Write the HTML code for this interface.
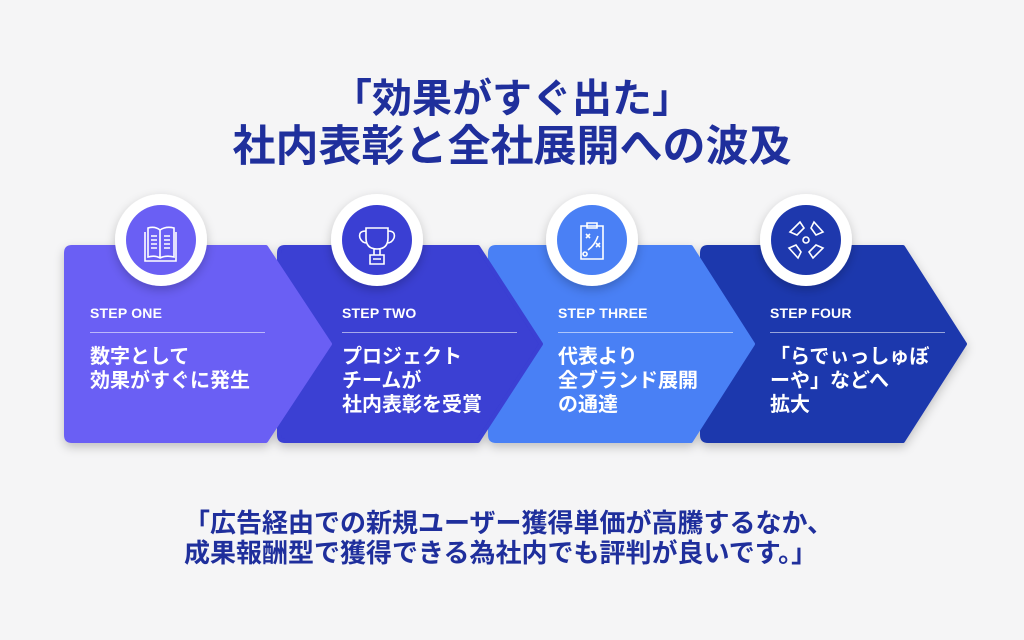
<!DOCTYPE html>
<html><head><meta charset="utf-8"><style>
body{margin:0;background:#f5f5f6;}
.w{position:relative;width:1024px;height:640px;overflow:hidden;font-family:"Liberation Sans","Noto Sans CJK JP",sans-serif;}
.t{position:absolute;left:0;width:1024px;text-align:center;color:#1f2f9c;font-weight:bold;}
.s{position:absolute;color:#fff;}
.lab{font-size:14px;font-weight:bold;letter-spacing:0.2px;}
.hr{position:absolute;height:1px;background:rgba(255,255,255,0.55);}
.bd{font-size:20px;font-weight:bold;line-height:24px;}
</style></head><body><div class="w">
<div class="t" style="top:74px;font-size:40px;line-height:50px;">「効果がすぐ出た」</div>
<div class="t" style="top:121px;font-size:43px;line-height:52px;">社内表彰と全社展開への波及</div>
<svg width="1024" height="640" style="position:absolute;left:0;top:0">
<defs><filter id="sh" x="-10%" y="-10%" width="130%" height="130%"><feDropShadow dx="0" dy="4" stdDeviation="5" flood-color="#000" flood-opacity="0.22"/></filter></defs>
<g filter="url(#sh)" stroke-linejoin="round">
<path d="M708 247 H903 L965 344 L903 441 H708 Q702 441 702 435 V253 Q702 247 708 247Z" fill="#1e38ad" stroke="#1e38ad" stroke-width="4"/>
<path d="M496 247 H691 L753 344 L691 441 H496 Q490 441 490 435 V253 Q490 247 496 247Z" fill="#4a80f5" stroke="#4a80f5" stroke-width="4"/>
<path d="M285 247 H478 L541 344 L478 441 H285 Q279 441 279 435 V253 Q279 247 285 247Z" fill="#3a3fd3" stroke="#3a3fd3" stroke-width="4"/>
<path d="M72 247 H266 L330 344 L266 441 H72 Q66 441 66 435 V253 Q66 247 72 247Z" fill="#6a5ff4" stroke="#6a5ff4" stroke-width="4"/>
</g>
<g filter="url(#sh)">
<circle cx="161" cy="240" r="46" fill="#fff"/><circle cx="377" cy="240" r="46" fill="#fff"/>
<circle cx="592" cy="240" r="46" fill="#fff"/><circle cx="806" cy="240" r="46" fill="#fff"/>
</g>
<circle cx="161" cy="240" r="35" fill="#6a5ff4"/><circle cx="377" cy="240" r="35" fill="#3a3fd3"/>
<circle cx="592" cy="240" r="35" fill="#4a80f5"/><circle cx="806" cy="240" r="35" fill="#1e38ad"/>
<g fill="none" stroke="#fff" stroke-width="1.6">
<path d="M148 228 Q155 226 160 230 Q166 226 174 228 V257 Q166 255 160 258 Q155 255 148 257Z M160 230 V258 M145 232 V261 H176 V232"/>
<path d="M151 236 H157 M151 240 H157 M151 244 H157 M151 248 H157 M164 236 H170 M164 240 H170 M164 244 H170 M164 248 H170"/>
<path d="M366 228 H388 V238 Q388 249 377 249 Q366 249 366 238Z M366 231 Q358 231 360 238 Q362 243 367 243 M388 231 Q396 231 394 238 Q392 243 387 243 M374 249 V255 M380 249 V255 M370 255 H384 V264 H370Z M373 259 H381"/>
<path d="M581 226 H603 V259 H581Z M587 223 H597 V228 H587Z M586 234 l4 4 m0 -4 l-4 4 M596 243 l4 4 m0 -4 l-4 4 M585 252 a2 2 0 1 0 0.1 0 M588 250 Q595 245 598 236"/>
<circle cx="806" cy="240" r="3"/>
<path d="M790 232 L800 222 L804 228 L797 235Z M814 222 L823 232 L816 235 L811 228Z M823 248 L813 258 L809 252 L816 245Z M798 258 L789 248 L796 245 L801 252Z"/>
</g>
</svg>
<div class="s lab" style="left:90px;top:305px">STEP ONE</div>
<div class="s lab" style="left:342px;top:305px">STEP TWO</div>
<div class="s lab" style="left:558px;top:305px">STEP THREE</div>
<div class="s lab" style="left:770px;top:305px">STEP FOUR</div>
<div class="hr" style="left:90px;top:332px;width:175px"></div>
<div class="hr" style="left:342px;top:332px;width:175px"></div>
<div class="hr" style="left:558px;top:332px;width:175px"></div>
<div class="hr" style="left:770px;top:332px;width:175px"></div>
<div class="s bd" style="left:90px;top:345px">数字として<br>効果がすぐに発生</div>
<div class="s bd" style="left:342px;top:345px">プロジェクト<br>チームが<br>社内表彰を受賞</div>
<div class="s bd" style="left:558px;top:345px">代表より<br>全ブランド展開<br>の通達</div>
<div class="s bd" style="left:770px;top:345px">「らでぃっしゅぼ<br>ーや」などへ<br>拡大</div>
<div class="t" style="top:508px;font-size:26px;line-height:30px;left:184px;width:760px;text-align:left;">「広告経由での新規ユーザー獲得単価が高騰するなか、<br>成果報酬型で獲得できる為社内でも評判が良いです。」</div>
</div></body></html>
